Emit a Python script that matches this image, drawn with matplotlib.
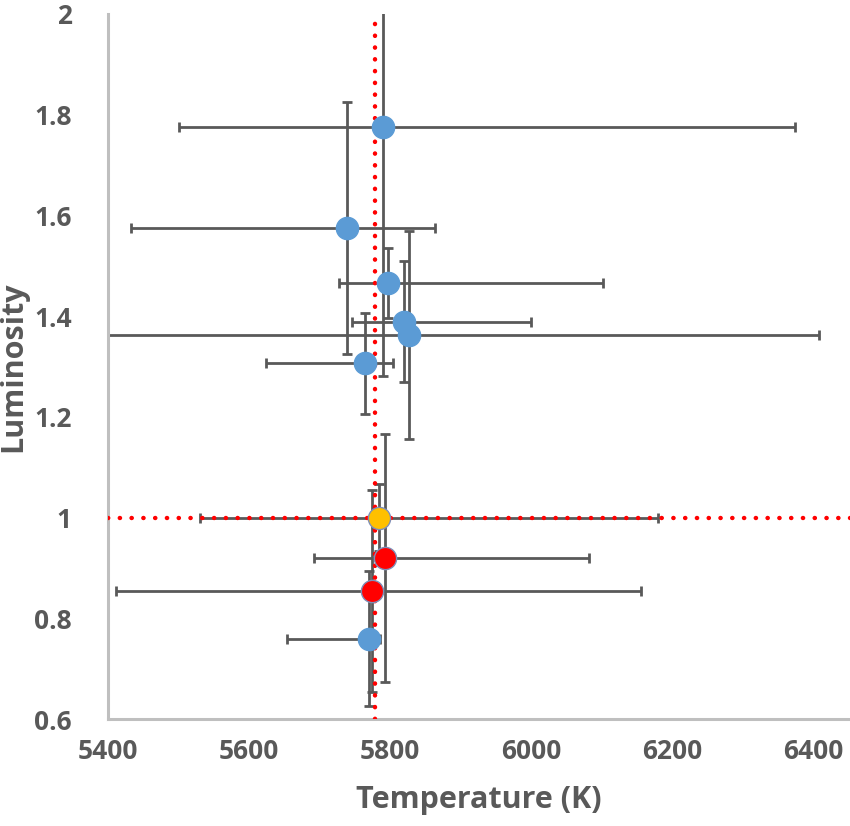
import matplotlib
matplotlib.use("Agg")
import matplotlib.pyplot as plt
import numpy as np

# Data
temps = [5790, 5739, 5797, 5819, 5827, 5765, 5784, 5793, 5775, 5770]
lums = [1.776, 1.575, 1.466, 1.389, 1.363, 1.306, 1.000, 0.920, 0.854, 0.759]
t_err_lo = [289, 306, 69, 73, 600, 141, 254, 101, 364, 116]
t_err_hi = [584, 125, 305, 181, 581, 39, 396, 289, 381, 15]
l_err = [0.495, 0.250, 0.069, 0.120, 0.206, 0.100, 0.067, 0.246, 0.200, 0.134]
colors = ["#5B9BD5", "#5B9BD5", "#5B9BD5", "#5B9BD5", "#5B9BD5", "#5B9BD5",
          "#FFC000", "#FF0000", "#FF0000", "#5B9BD5"]

sun_temp = 5778
sun_lum = 1.0

x_ticks = [5400, 5600, 5800, 6000, 6200, 6400]
y_ticks = [0.6, 0.8, 1.0, 1.2, 1.4, 1.6, 1.8, 2.0]
y_tick_labels = ["0.6", "0.8", "1", "1.2", "1.4", "1.6", "1.8", "2"]

plt.rcParams['font.family'] = ['Open Sans', 'DejaVu Sans']

fig = plt.figure(figsize=(8.5, 8.26), dpi=100)
ax = fig.add_axes([108/850, (826-719)/826, 742/850, (719-14)/826])

grey = "#595959"
ax.errorbar(temps, lums, xerr=[t_err_lo, t_err_hi], yerr=l_err, fmt="none",
            ecolor=grey, elinewidth=2.0, capsize=3.5, capthick=2.0, zorder=2)

ax.axvline(sun_temp, color="#FF0000", lw=3.2, linestyle=(0, (0.05, 2.6)),
           dash_capstyle="round", zorder=3)
ax.axhline(sun_lum, color="#FF0000", lw=3.2, linestyle=(0, (0.05, 2.6)),
           dash_capstyle="round", zorder=3)

for t, l, c in zip(temps, lums, colors):
    ec = c if c == "#5B9BD5" else "#7F8FB8"
    ax.plot(t, l, "o", ms=16, color=c, mec=ec, mew=1.0, zorder=4)

ax.set_xlim(5400, 6452)
ax.set_ylim(0.6, 2.0)
ax.set_xticks(x_ticks)
ax.set_xticklabels([str(v) for v in x_ticks])
ax.set_yticks(y_ticks)
ax.set_yticklabels(y_tick_labels)
ax.tick_params(length=0, labelsize=19, labelcolor=grey)
ax.tick_params(axis="x", pad=14)
ax.tick_params(axis="y", pad=26)
for lab in ax.get_xticklabels() + ax.get_yticklabels():
    lab.set_fontweight("bold")

for s in ["top", "right"]:
    ax.spines[s].set_visible(False)
for s in ["left", "bottom"]:
    ax.spines[s].set_color("#BFBFBF")
    ax.spines[s].set_linewidth(2.2)

ax.set_xlabel("Temperature (K)", fontsize=22, fontweight="bold", color=grey, labelpad=14)
ax.set_ylabel("Luminosity", fontsize=22, fontweight="bold", color=grey, labelpad=4)

fig.savefig("out.png", dpi=100)
